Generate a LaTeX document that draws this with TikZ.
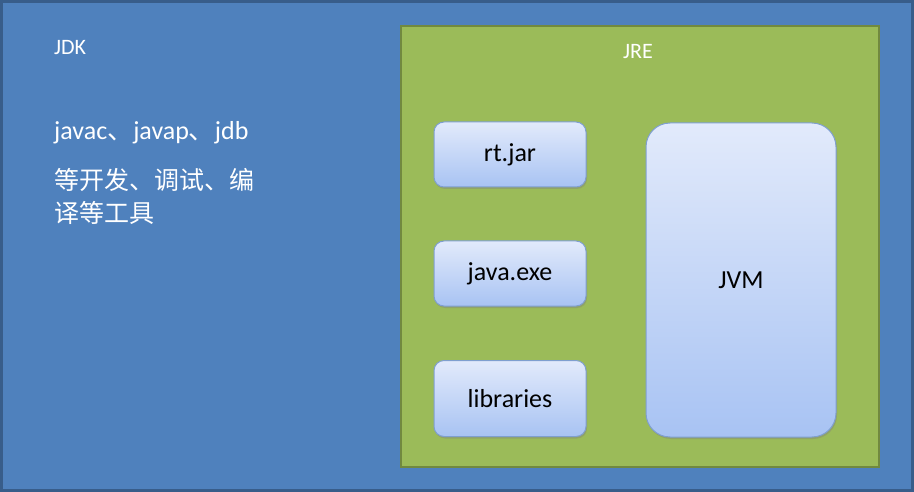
\documentclass[tikz,border=0pt]{standalone}
\usepackage{fontspec}
\setmainfont{Carlito}
\newfontfamily\cjk{Noto Sans CJK SC}
\usetikzlibrary{shadows}
\definecolor{bgblue}{HTML}{4F81BD}
\definecolor{bgborder}{HTML}{385D8A}
\definecolor{jregreen}{HTML}{9BBB59}
\definecolor{jreborder}{HTML}{71893F}
\definecolor{boxtop}{HTML}{E2EAFB}
\definecolor{boxbot}{HTML}{A8C3F3}
\definecolor{boxborder}{HTML}{7F9FCF}
\tikzset{
  compbox/.style={draw=boxborder, line width=1pt, rounded corners=10pt, top color=boxtop, bottom color=boxbot, font=\fontsize{26}{30}\selectfont, text=black, drop shadow={shadow xshift=1pt, shadow yshift=-2pt, opacity=0.4}},
  whitetext/.style={text=white, inner sep=0pt, anchor=west}
}
\begin{document}
\begin{tikzpicture}[x=1pt,y=-1pt]
\useasboundingbox (0,0) rectangle (914,492);
\node[draw=bgborder, line width=2.5pt, fill=bgblue, minimum width=911pt, minimum height=489pt, inner sep=0pt] (jdk) at (457,246) {};
\node[draw=jreborder, line width=2.5pt, fill=jregreen, minimum width=478pt, minimum height=441pt, inner sep=0pt] (jre) at (640,246.5) {};
\node[whitetext, font=\fontsize{22}{26}\selectfont] (jdklabel) at (54,48) {JDK};
\node[text=white, inner sep=0pt, font=\fontsize{22}{26}\selectfont] (jrelabel) at (638,52) {JRE};
\node[whitetext, font=\fontsize{26}{30}\selectfont] (tools1) at (54,133) {javac{\cjk 、}javap{\cjk 、}jdb};
\node[whitetext, font=\fontsize{25}{30}\selectfont\cjk] (tools2) at (54,180) {等开发、调试、编};
\node[whitetext, font=\fontsize{25}{30}\selectfont\cjk] (tools3) at (54,213) {译等工具};
\node[compbox, minimum width=152pt, minimum height=65pt] (rt) at (510,154.5) {rt.jar};
\node[compbox, minimum width=152pt, minimum height=65pt] (javaexe) at (510,273.5) {java.exe};
\node[compbox, minimum width=152pt, minimum height=76pt] (lib) at (510,398.5) {libraries};
\node[compbox, rounded corners=24pt, minimum width=190pt, minimum height=314pt] (jvm) at (741,280) {JVM};
\end{tikzpicture}
\end{document}
